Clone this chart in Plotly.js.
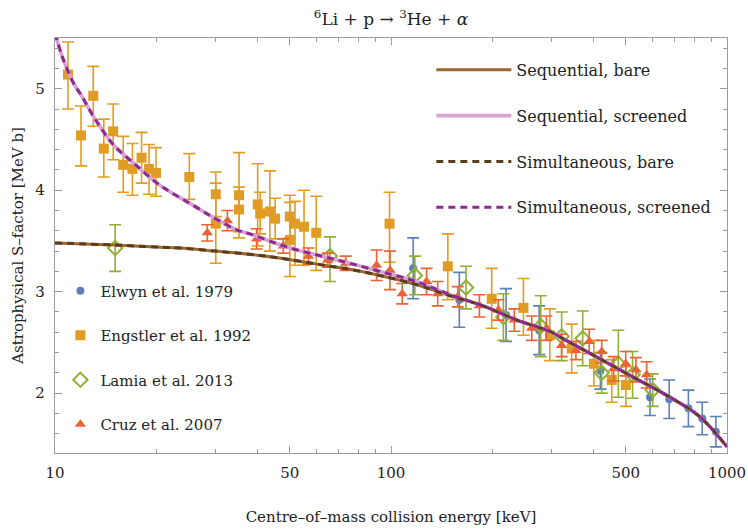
<!DOCTYPE html>
<html>
<head>
<meta charset="utf-8">
<script src="https://cdn.plot.ly/plotly-3.0.1.min.js"></script>
<style>html,body{margin:0;padding:0;background:#fff;}#chart{width:748px;height:529px;}</style>
</head>
<body>
<div id="chart"></div>
<script>
// ---- Data ----
const elwynX = [116.4, 159.7, 220, 276, 420, 590, 673, 767.7, 844, 926.7];
const elwynY = [3.23, 2.92, 2.77, 2.62, 2.22, 1.96, 1.94, 1.85, 1.75, 1.62];
const elwynErr = [0.30, 0.27, 0.26, 0.24, 0.18, 0.18, 0.19, 0.18, 0.16, 0.15];

const engX = [10.93, 11.95, 13.0, 13.97, 14.9, 15.96, 17.0, 18.1, 19.05, 19.98, 25.1, 30.1, 30.1, 35.3, 35.3, 40.1, 40.8, 43.6, 45.2, 50.0, 50.0, 51.8, 55.1, 59.9, 99.0, 147.6, 199.4, 247.8, 297, 345, 401.6, 453.9, 500];
const engY = [5.14, 4.54, 4.93, 4.41, 4.58, 4.25, 4.21, 4.32, 4.21, 4.17, 4.13, 3.96, 3.67, 3.95, 3.81, 3.86, 3.77, 3.79, 3.72, 3.74, 3.51, 3.67, 3.64, 3.58, 3.67, 3.25, 2.93, 2.84, 2.57, 2.44, 2.29, 2.13, 2.08];
const engErrUp = [0.32, 0.29, 0.29, 0.29, 0.27, 0.28, 0.25, 0.25, 0.24, 0.25, 0.23, 0.22, 0.40, 0.42, 0.22, 0.40, 0.21, 0.40, 0.20, 0.21, 0.37, 0.22, 0.36, 0.36, 0.31, 0.32, 0.30, 0.29, 0.26, 0.24, 0.23, 0.20, 0.18];
const engErrDn = [0.34, 0.30, 0.30, 0.28, 0.28, 0.27, 0.26, 0.25, 0.25, 0.23, 0.22, 0.22, 0.39, 0.42, 0.22, 0.41, 0.20, 0.39, 0.20, 0.21, 0.36, 0.41, 0.38, 0.37, 0.38, 0.33, 0.29, 0.27, 0.25, 0.24, 0.22, 0.22, 0.21];

const lamiaX = [15.1, 65.8, 117.8, 167.2, 216, 279, 322, 372, 423.7, 474.9, 523.6, 601];
const lamiaY = [3.43, 3.35, 3.16, 3.04, 2.75, 2.66, 2.56, 2.54, 2.20, 2.29, 2.18, 2.03];
const lamiaErrUp = [0.23, 0.19, 0.19, 0.21, 0.23, 0.30, 0.24, 0.27, 0.20, 0.33, 0.23, 0.16];
const lamiaErrDn = [0.23, 0.25, 0.19, 0.21, 0.23, 0.30, 0.24, 0.27, 0.20, 0.33, 0.23, 0.16];

const cruzX = [28.4, 32.6, 39.8, 47.8, 56.8, 64.8, 73.3, 90.6, 99.3, 108, 127.6, 137.7, 158, 183.3, 208.7, 232.8, 262.4, 290, 322, 355, 389, 423.7, 460, 499.5, 535.7, 576.5];
const cruzY = [3.58, 3.70, 3.52, 3.45, 3.35, 3.31, 3.28, 3.26, 3.21, 2.98, 3.10, 2.98, 2.95, 2.86, 2.82, 2.72, 2.64, 2.64, 2.47, 2.42, 2.51, 2.41, 2.24, 2.29, 2.23, 2.18];
const cruzErr = [0.08, 0.10, 0.10, 0.07, 0.08, 0.07, 0.07, 0.15, 0.19, 0.10, 0.13, 0.12, 0.10, 0.11, 0.10, 0.11, 0.12, 0.12, 0.11, 0.09, 0.12, 0.11, 0.12, 0.12, 0.12, 0.13];

const screenedX = [10.0, 10.5, 11.33, 12, 13, 14.9, 17.1, 20.5, 25.2, 30, 34.7, 38.8, 49, 65.8, 75.4, 92.6, 119, 150, 188, 237, 296, 332, 418, 524, 660, 828, 1000];
const screenedY = [5.55, 5.32, 5.06, 4.93, 4.73, 4.45, 4.27, 4.05, 3.87, 3.72, 3.61, 3.56, 3.44, 3.33, 3.28, 3.20, 3.10, 2.97, 2.86, 2.72, 2.61, 2.52, 2.34, 2.16, 1.98, 1.77, 1.47];
const bareX = [10, 15, 20, 23.5, 30, 40, 47, 66, 75.4, 92.6, 119, 150, 188, 237, 296, 332, 418, 524, 660, 828, 1000];
const bareY = [3.48, 3.46, 3.44, 3.43, 3.40, 3.36, 3.33, 3.25, 3.22, 3.16, 3.07, 2.96, 2.86, 2.72, 2.61, 2.52, 2.34, 2.16, 1.98, 1.77, 1.47];

const xTickVals = [10, 50, 100, 500, 1000];
const xMinorVals = [20, 30, 40, 60, 70, 80, 90, 200, 300, 400, 600, 700, 800, 900];

// ---- Styling ----
const FONT = "'DejaVu Serif', 'Liberation Serif', serif";
const cBlue = '#5e81b5', cOrange = '#e19c24', cGreen = '#8fb032', cRed = '#eb6235';

function errTrace(name, x, y, up, dn, color, symbol, size, extra) {
  return Object.assign({
    type: 'scatter', mode: 'markers', name: name, x: x, y: y,
    legend: 'legend2', legendgroup: name,
    marker: {color: color, symbol: symbol, size: size},
    error_y: {type: 'data', symmetric: false, array: up, arrayminus: dn, color: color, thickness: 1.6, width: 6}
  }, extra || {});
}

const traces = [
  errTrace('Elwyn et al. 1979', elwynX, elwynY, elwynErr, elwynErr, cBlue, 'circle', 8),
  errTrace('Engstler et al. 1992', engX, engY, engErrUp, engErrDn, cOrange, 'square', 10),
  errTrace('Lamia et al. 2013', lamiaX, lamiaY, lamiaErrUp, lamiaErrDn, cGreen, 'diamond-open', 11,
    {marker: {color: cGreen, symbol: 'diamond-open', size: 11, line: {width: 2, color: cGreen}}}),
  errTrace('Cruz et al. 2007', cruzX, cruzY, cruzErr, cruzErr, cRed, 'triangle-up', 10),
  {type: 'scatter', mode: 'lines', name: 'Sequential, bare', x: bareX, y: bareY, legendgroup: 'a',
   line: {color: '#9c6630', width: 3, shape: 'spline'}},
  {type: 'scatter', mode: 'lines', name: 'Sequential, screened', x: screenedX, y: screenedY, legendgroup: 'b',
   line: {color: '#d7a1d3', width: 3.6, shape: 'spline'}},
  {type: 'scatter', mode: 'lines', name: 'Simultaneous, bare', x: bareX, y: bareY, legendgroup: 'c',
   line: {color: '#5b3d1e', width: 3, dash: '7px,5px', shape: 'spline'}},
  {type: 'scatter', mode: 'lines', name: 'Simultaneous, screened', x: screenedX, y: screenedY, legendgroup: 'd',
   line: {color: '#8e2a8e', width: 3, dash: '7px,5px', shape: 'spline'}}
];

const axisCommon = {
  showgrid: false, zeroline: false, showline: true, linecolor: '#9a9a9a', linewidth: 1.2,
  mirror: 'allticks', ticks: 'inside', ticklen: 7, tickcolor: '#9a9a9a', tickwidth: 1,
  tickfont: {family: FONT, size: 15, color: '#222'}
};

const layout = {
  width: 748, height: 529,
  margin: {l: 55, r: 21, t: 38, b: 76},
  paper_bgcolor: '#fff', plot_bgcolor: '#fff',
  font: {family: FONT, color: '#222'},
  title: {text: '<sup>6</sup>Li + p \u2192 <sup>3</sup>He + <i>\u03b1</i>', font: {family: FONT, size: 17, color: '#222'},
          xref: 'paper', x: 0.5, xanchor: 'center', y: 0.975, yanchor: 'top'},
  xaxis: Object.assign({}, axisCommon, {
    type: 'log', range: [1, 3], tickmode: 'array', tickvals: xTickVals, ticktext: xTickVals.map(String),
    ticklabelstandoff: 6,
    minor: {tickmode: 'array', tickvals: xMinorVals, ticks: 'inside', ticklen: 4, tickcolor: '#9a9a9a'},
    title: {text: 'Centre\u2013of\u2013mass collision energy [keV]', font: {family: FONT, size: 15, color: '#222'}, standoff: 30}
  }),
  yaxis: Object.assign({}, axisCommon, {
    range: [1.41, 5.5], tickmode: 'array', tickvals: [2, 3, 4, 5], ticklabelstandoff: 6,
    minor: {dtick: 0.2, tick0: 0, ticks: 'inside', ticklen: 4, tickcolor: '#9a9a9a'},
    title: {text: 'Astrophysical S\u2013factor [MeV b]', font: {family: FONT, size: 15, color: '#222'}, standoff: 8}
  }),
  legend: {
    x: 0.56, y: 0.964, xanchor: 'left', yanchor: 'top', bgcolor: 'rgba(0,0,0,0)',
    font: {family: FONT, size: 16, color: '#222'}, itemwidth: 75, traceorder: 'grouped', tracegroupgap: 22
  },
  legend2: {
    x: 0.008, y: 0.43, xanchor: 'left', yanchor: 'top', bgcolor: 'rgba(0,0,0,0)',
    font: {family: FONT, size: 15, color: '#222'}, itemwidth: 30, traceorder: 'grouped', tracegroupgap: 22
  },
  showlegend: true
};

Plotly.newPlot('chart', traces, layout, {displayModeBar: false, staticPlot: true});
</script>
</body>
</html>
